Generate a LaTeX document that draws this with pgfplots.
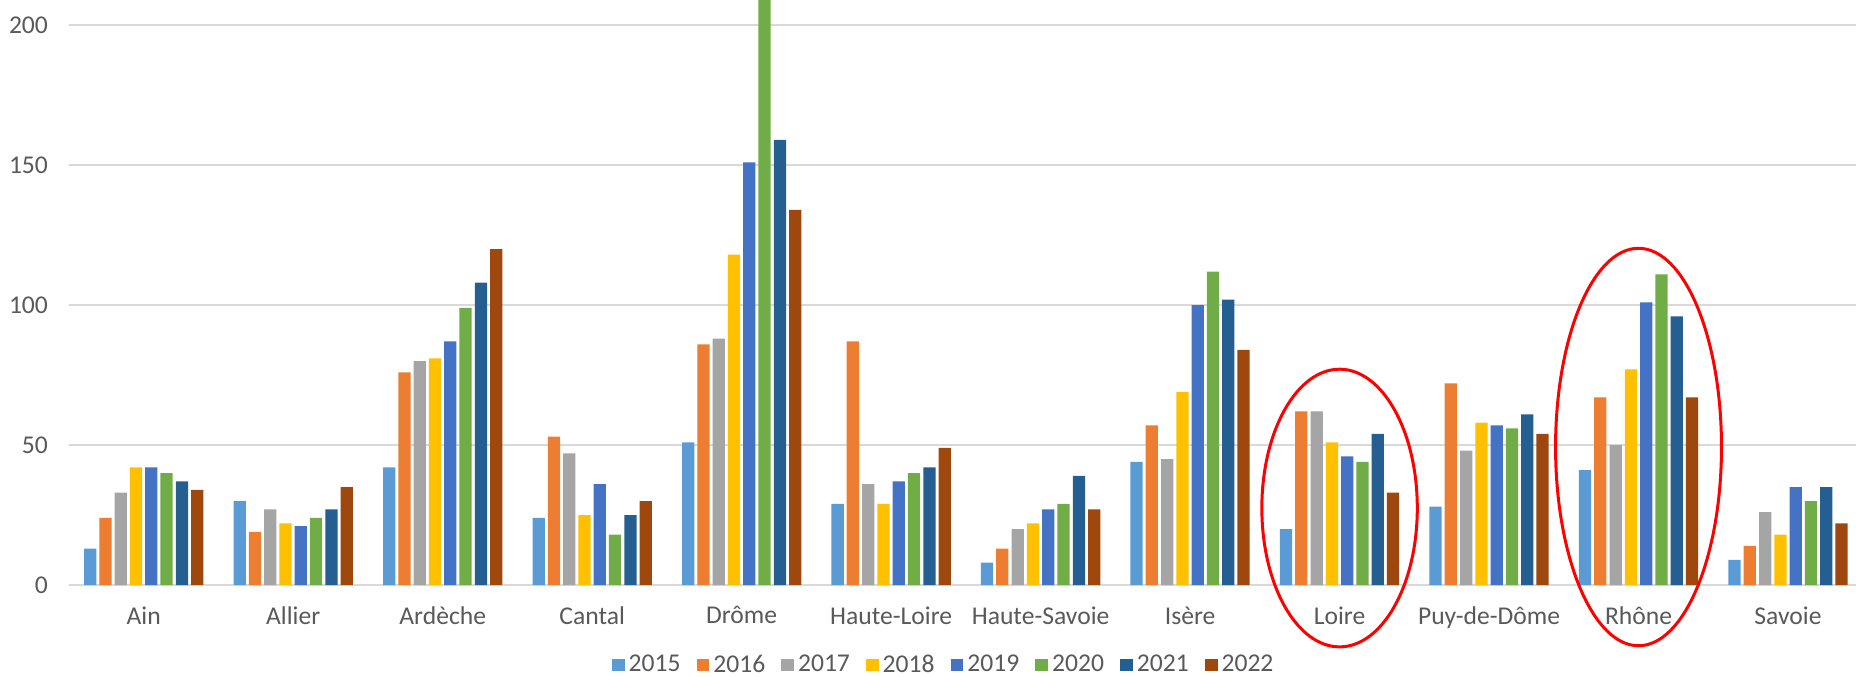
\documentclass[border=0pt]{standalone}
\usepackage{pgfplots}
\usepackage{pgfplotstable}
\pgfplotsset{compat=1.18}
\usepackage{fontspec}
\setmainfont{Carlito}

\definecolor{txtgray}{HTML}{595959}
\definecolor{gridgray}{HTML}{D9D9D9}
\definecolor{c2015}{HTML}{5B9BD5}
\definecolor{c2016}{HTML}{ED7D31}
\definecolor{c2017}{HTML}{A5A5A5}
\definecolor{c2018}{HTML}{FFC000}
\definecolor{c2019}{HTML}{4472C4}
\definecolor{c2020}{HTML}{70AD47}
\definecolor{c2021}{HTML}{255E91}
\definecolor{c2022}{HTML}{9E480E}

% departements: 0 Ain ... 11 Savoie
\pgfplotstableread{
x  a2015 a2016 a2017 a2018 a2019 a2020 a2021 a2022
0  13    24    33    42    42    40    37    34
1  30    19    27    22    21    24    27    35
2  42    76    80    81    87    99    108   120
3  24    53    47    25    36    18    25    30
4  51    86    88    118   151   215   159   134
5  29    87    36    29    37    40    42    49
6  8     13    20    22    27    29    39    27
7  44    57    45    69    100   112   102   84
8  20    62    62    51    46    44    54    33
9  28    72    48    58    57    56    61    54
10 41    67    50    77    101   111   96    67
11 9     14    26    18    35    30    35    22
}\data

\begin{document}
\begin{tikzpicture}
\begin{axis}[
    at={(0,0)}, anchor=south west,
    scale only axis,
    width=893.5pt, height=292.5pt,
    xmin=-0.5, xmax=11.455,
    ymin=0, ymax=209,
    ybar=0pt,
    bar width=0.082,
    axis line style={draw=none},
    tick style={draw=none},
    ytick={0,50,100,150,200},
    ymajorgrids,
    grid style={draw=gridgray, line width=1pt},
    xtick={0,...,11},
    xticklabels={Ain,Allier,Ardèche,Cantal,Drôme,Haute-Loire,Haute-Savoie,Isère,Loire,Puy-de-Dôme,Rhône,Savoie},
    ticklabel style={font=\fontsize{12.8}{15}\selectfont, text=txtgray},
    /pgf/number format/assume math mode=true,
    xticklabel style={yshift=-3pt},
    yticklabel style={xshift=-7pt},
    clip mode=individual,
    legend columns=-1,
    legend style={at={(0.49,0)}, anchor=center, yshift=-40pt, draw=none,
        inner sep=0.5pt,
        font=\fontsize{12.8}{15}\selectfont, text=txtgray,
        /tikz/every even column/.append style={column sep=6pt}},
    legend image code/.code={\fill[#1] (0pt,-3.2pt) rectangle (6.4pt,3.2pt);},
]
\addplot[fill=c2015, draw=none, bar shift=-0.358] table[x=x, y=a2015] {\data};
\addplot[fill=c2016, draw=none, bar shift=-0.256] table[x=x, y=a2016] {\data};
\addplot[fill=c2017, draw=none, bar shift=-0.153] table[x=x, y=a2017] {\data};
\addplot[fill=c2018, draw=none, bar shift=-0.051] table[x=x, y=a2018] {\data};
\addplot[fill=c2019, draw=none, bar shift=0.051] table[x=x, y=a2019] {\data};
\addplot[fill=c2020, draw=none, bar shift=0.153] table[x=x, y=a2020] {\data};
\addplot[fill=c2021, draw=none, bar shift=0.256] table[x=x, y=a2021] {\data};
\addplot[fill=c2022, draw=none, bar shift=0.358] table[x=x, y=a2022] {\data};
\legend{2015,2016,2017,2018,2019,2020,2021,2022}

% cercles rouges autour de Loire et Rhône
\draw[red, line width=1.5pt] (axis cs:8,27.5) ellipse [x radius=0.52, y radius=49.6];
\draw[red, line width=1.5pt] (axis cs:10,49.3) ellipse [x radius=0.555, y radius=71];
\end{axis}
\pgfresetboundingbox
\path[use as bounding box] (-34.5pt,-45.5pt) rectangle (893.5pt,292.5pt);
\end{tikzpicture}
\end{document}
